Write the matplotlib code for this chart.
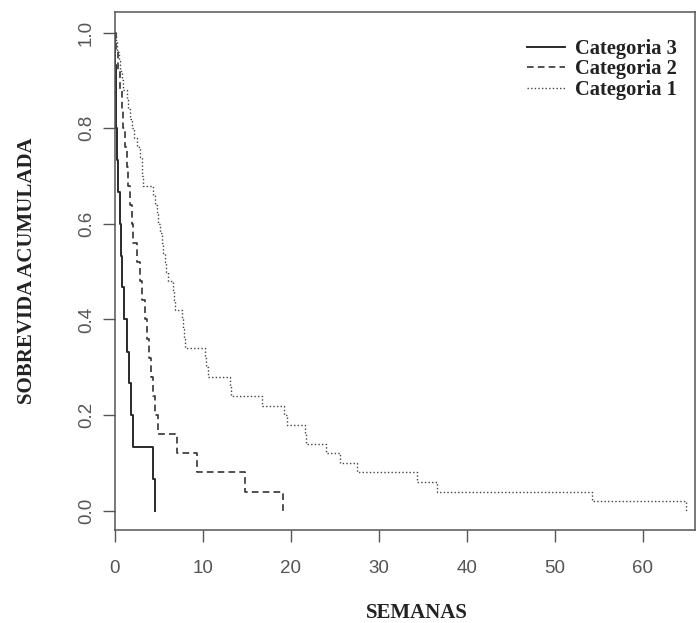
import matplotlib
matplotlib.use('Agg')
import matplotlib.pyplot as plt

# Kaplan-Meier steps (time in weeks, survival after each step)
t_cat3 = [0, 0.05, 0.1, 0.15, 0.2, 0.3, 0.55, 0.68, 0.76, 1.02, 1.33, 1.63, 1.82, 2.08, 4.36, 4.6]
s_cat3 = [1.0, 0.933, 0.867, 0.8, 0.733, 0.667, 0.6, 0.533, 0.467, 0.4, 0.333, 0.267, 0.2, 0.133, 0.067, 0.0]

t_cat2 = [0, 0.1, 0.3, 0.57, 0.76, 0.95, 1.15, 1.33, 1.5, 1.7, 1.9, 2.08, 2.46, 2.84, 3.1, 3.4,
          3.6, 3.9, 4.1, 4.36, 4.6, 4.93, 7.0, 9.29, 14.78, 19.14]
s_cat2 = [1.0, 0.96, 0.92, 0.88, 0.84, 0.80, 0.76, 0.72, 0.68, 0.64, 0.60, 0.56, 0.52, 0.48, 0.44, 0.40,
          0.36, 0.32, 0.28, 0.24, 0.20, 0.16, 0.12, 0.08, 0.04, 0.0]

t_cat1 = [0, 0.1, 0.2, 0.4, 0.57, 0.76, 0.95, 1.33, 1.5, 1.7, 1.9, 2.2, 2.46, 2.84, 3.03, 3.1, 3.2,
          4.36, 4.55, 4.74, 4.93, 5.12, 5.3, 5.5, 5.7, 5.85, 6.06, 6.63, 6.7, 6.8, 7.58, 7.7, 7.85, 7.96,
          10.23, 10.4, 10.6, 13.08, 13.2, 16.7, 19.2, 19.6, 21.6, 21.7, 24.0, 25.6, 27.5, 34.3,
          36.65, 54.2, 64.9]
s_cat1 = [1.0, 0.98, 0.96, 0.94, 0.92, 0.90, 0.88, 0.86, 0.84, 0.82, 0.80, 0.78, 0.76, 0.74, 0.72, 0.70, 0.68,
          0.66, 0.64, 0.62, 0.60, 0.58, 0.56, 0.54, 0.52, 0.50, 0.48, 0.46, 0.44, 0.42, 0.40, 0.38, 0.36, 0.34,
          0.32, 0.30, 0.28, 0.26, 0.24, 0.22, 0.20, 0.18, 0.16, 0.14, 0.12, 0.10, 0.08, 0.06,
          0.04, 0.02, 0.0]

labels = ['Categoria 3', 'Categoria 2', 'Categoria 1']
x_ticks = [0, 10, 20, 30, 40, 50, 60]
y_ticks = [0.0, 0.2, 0.4, 0.6, 0.8, 1.0]

gray = '#555555'
serif = ['Liberation Serif', 'DejaVu Serif']
sans = ['Liberation Sans', 'DejaVu Sans']

fig = plt.figure(figsize=(6.96, 6.23), dpi=100)
ax = fig.add_axes([115 / 696, 1 - 530 / 623, 580 / 696, 518 / 623])

ax.step(t_cat3, s_cat3, where='post', color='#2a2a2a', lw=1.4, label=labels[0])
ax.step(t_cat2, s_cat2, where='post', color='#333333', lw=1.2, linestyle=(0, (4, 2.5)), label=labels[1])
ax.step(t_cat1, s_cat1, where='post', color='#444444', lw=1.0, linestyle=(0, (1, 1.6)), label=labels[2])

ax.set_xlim(0, 65.95)
ax.set_ylim(-0.0404, 1.0433)

ax.set_xticks(x_ticks)
ax.set_xticklabels([str(v) for v in x_ticks], family=sans, fontsize=13.5, color=gray)
ax.set_yticks(y_ticks)
ax.set_yticklabels(['%.1f' % v for v in y_ticks], family=sans, fontsize=13.5, color=gray,
                   rotation=90, va='center')
ax.tick_params(axis='both', direction='out', length=8.5, width=1, color=gray)
ax.tick_params(axis='x', pad=13)
ax.tick_params(axis='y', pad=6)
for sp in ax.spines.values():
    sp.set_color(gray)
    sp.set_linewidth(1.1)

ax.set_xlabel('SEMANAS', family=serif, fontweight='bold', fontsize=15, color='#222222')
ax.set_ylabel('SOBREVIDA ACUMULADA', family=serif, fontweight='bold', fontsize=15, color='#222222')
ax.xaxis.set_label_coords(0.52, -0.141)
ax.yaxis.set_label_coords(-0.135, 0.5)

leg = ax.legend(loc='upper left', bbox_to_anchor=(0.71, 0.948), frameon=False,
                prop={'family': serif, 'weight': 'bold', 'size': 14.8},
                handlelength=1.85, handletextpad=0.5, labelspacing=0.02, borderpad=0, borderaxespad=0)
for txt in leg.get_texts():
    txt.set_color('#222222')

fig.savefig('out.png', dpi=100)
plt.close(fig)
